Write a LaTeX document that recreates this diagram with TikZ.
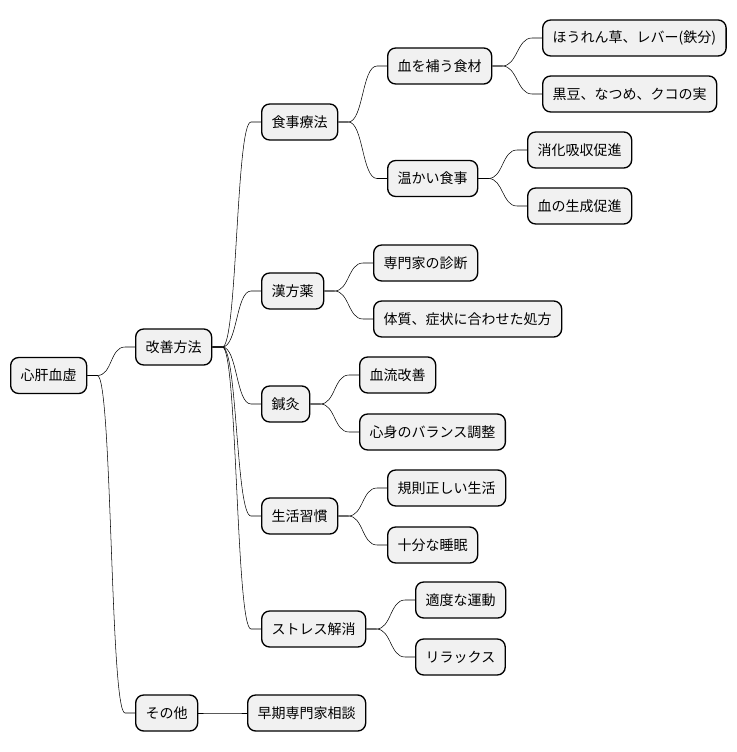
\documentclass[tikz,border=0pt]{standalone}
\usepackage{fontspec}
\setmainfont{Noto Sans CJK JP}
\usetikzlibrary{calc}
\definecolor{boxgray}{HTML}{F1F1F1}
\tikzset{
  topic/.style={draw=black, fill=boxgray, line width=1pt, rounded corners=6pt,
    minimum height=27pt, inner xsep=7.5pt, inner ysep=0pt, anchor=west,
    font=\fontsize{10.5}{12}\selectfont},
  branch/.style={line width=0.75pt, to path={-- ++(10,0) .. controls +(15,0) and +(-15,0) .. ($(\tikztotarget)+(-10,0)$) -- (\tikztotarget)}}
}

\begin{document}
\begin{tikzpicture}[x=0.75pt,y=0.75pt,yscale=-1,xscale=1]
\useasboundingbox (0,0) rectangle (737,752);

% Root
\node[topic] (root) at (10,375.5) {心肝血虚};
% Level 1
\node[topic] (kaizen) at (135,347) {改善方法};
\node[topic] (sonota) at (135,713) {その他};
% Level 2
\node[topic] (shokuji) at (261,122) {食事療法};
\node[topic] (kanpo) at (261,291) {漢方薬};
\node[topic] (shinkyu) at (261,404) {鍼灸};
\node[topic] (seikatsu) at (261,516) {生活習慣};
\node[topic] (stress) at (261,629) {ストレス解消};
\node[topic] (soki) at (247,713) {早期専門家相談};
% Level 3
\node[topic] (hoketsu) at (387,66) {血を補う食材};
\node[topic] (atatakai) at (387,178.5) {温かい食事};
\node[topic] (shindan) at (373,263) {専門家の診断};
\node[topic] (shoho) at (373,319) {体質、症状に合わせた処方};
\node[topic] (ketsuryu) at (359,375) {血流改善};
\node[topic] (balance) at (359,432) {心身のバランス調整};
\node[topic] (kisoku) at (387,488) {規則正しい生活};
\node[topic] (suimin) at (387,545) {十分な睡眠};
\node[topic] (undo) at (415,600) {適度な運動};
\node[topic] (relax) at (415,657) {リラックス};
% Level 4
\node[topic] (horenso) at (542,38) {ほうれん草、レバー(鉄分)};
\node[topic] (kuromame) at (542,94) {黒豆、なつめ、クコの実};
\node[topic] (shoka) at (527,150) {消化吸収促進};
\node[topic] (seisei) at (527,206) {血の生成促進};

% Branches
\draw (root.east) to[branch] (kaizen.west);
\draw (root.east) to[branch] (sonota.west);
\foreach \c in {shokuji,kanpo,shinkyu,seikatsu,stress}
  \draw (kaizen.east) to[branch] (\c.west);
\draw (sonota.east) to[branch] (soki.west);
\draw (shokuji.east) to[branch] (hoketsu.west);
\draw (shokuji.east) to[branch] (atatakai.west);
\draw (hoketsu.east) to[branch] (horenso.west);
\draw (hoketsu.east) to[branch] (kuromame.west);
\draw (atatakai.east) to[branch] (shoka.west);
\draw (atatakai.east) to[branch] (seisei.west);
\draw (kanpo.east) to[branch] (shindan.west);
\draw (kanpo.east) to[branch] (shoho.west);
\draw (shinkyu.east) to[branch] (ketsuryu.west);
\draw (shinkyu.east) to[branch] (balance.west);
\draw (seikatsu.east) to[branch] (kisoku.west);
\draw (seikatsu.east) to[branch] (suimin.west);
\draw (stress.east) to[branch] (undo.west);
\draw (stress.east) to[branch] (relax.west);

\end{tikzpicture}
\end{document}
